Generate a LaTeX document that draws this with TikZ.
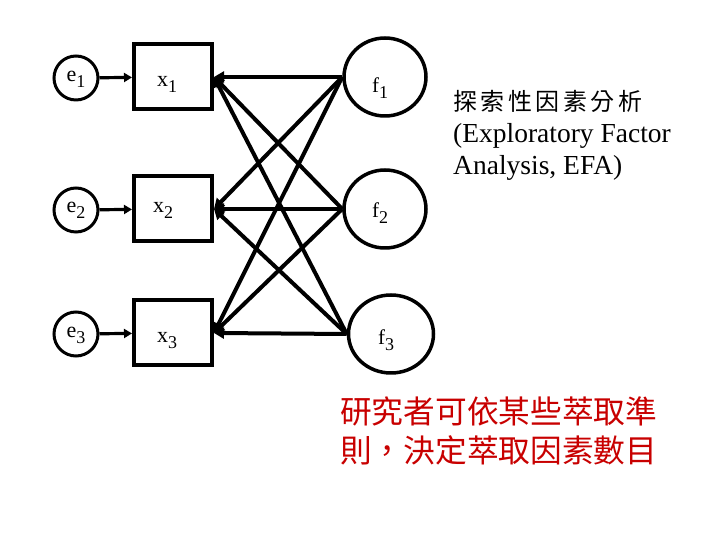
\documentclass[tikz,border=0pt]{standalone}
\usepackage{fontspec}
\setmainfont{Liberation Serif}
\newfontfamily\cjk{Noto Sans CJK TC}
\usetikzlibrary{shapes.geometric,arrows.meta}
\definecolor{redtxt}{RGB}{200,0,0}
% label: #1 horizontal shift (doubled), #2 vertical baseline offset, #3 letter, #4 index
\newcommand{\varlab}[4]{\makebox[0pt][c]{\kern#1\raisebox{#2}[0pt][0pt]{#3\raisebox{-6pt}{\fontsize{18}{18}\selectfont #4}}}}
\tikzset{
  errnode/.style={circle,draw,line width=3pt,minimum size=44pt,inner sep=0pt,font=\fontsize{22}{26}\selectfont},
  obsnode/.style={rectangle,draw,line width=4pt,minimum width=78pt,minimum height=65pt,inner sep=0pt,font=\fontsize{22}{26}\selectfont},
  facnode/.style={ellipse,draw,line width=3.5pt,minimum width=82pt,minimum height=78pt,inner sep=0pt,font=\fontsize{21}{26}\selectfont},
  load/.style={line width=4pt,-{Triangle[length=10pt,width=11pt]}},
  errarr/.style={line width=3.2pt,-{Triangle[length=8pt,width=9pt]}},
}
\begin{document}
\begin{tikzpicture}[x=1pt,y=1pt]
\useasboundingbox (0,0) rectangle (720,540);
% error terms
\node[errnode] (e1) at (76,462) {\varlab{0pt}{-4pt}{e}{1}};
\node[errnode] (e2) at (76,330) {\varlab{0pt}{-3pt}{e}{2}};
\node[errnode] (e3) at (76,206) {\varlab{0pt}{-4pt}{e}{3}};
% observed variables
\node[obsnode] (x1) at (173,463) {\varlab{-12pt}{-10pt}{x}{1}};
\node[obsnode] (x2) at (173,331) {\varlab{-20pt}{-4pt}{x}{2}};
\node[obsnode] (x3) at (173,207) {\varlab{-12pt}{-10pt}{x}{3}};
% factors
\node[facnode] (f1) at (385,463) {\varlab{-10pt}{-16pt}{f}{1}};
\node[facnode] (f2) at (385,331) {\varlab{-10pt}{-9pt}{f}{2}};
\node[facnode,minimum width=85pt] (f3) at (391,206) {\varlab{-10pt}{-11pt}{f}{3}};
% error arrows
\draw[errarr] (e1) -- (x1);
\draw[errarr] (e2) -- (x2);
\draw[errarr] (e3) -- (x3);
% loadings
\foreach \i in {1,2,3}{
  \foreach \j in {1,2,3}{
    \draw[load] (f\i.west) -- (x\j.east);
  }
}
% texts
\node[anchor=base west,inner sep=0pt,font=\cjk\fontsize{24}{28}\selectfont] (t1) at (453,429)
  {探\hspace{3.5pt}索\hspace{3.5pt}性\hspace{3.5pt}因\hspace{3.5pt}素\hspace{3.5pt}分\hspace{3.5pt}析};
\node[anchor=base west,inner sep=0pt,font=\fontsize{27.5}{32}\selectfont] (t2) at (453,397) {(Exploratory Factor};
\node[anchor=base west,inner sep=0pt,font=\fontsize{27.5}{32}\selectfont] (t3) at (453,365) {Analysis, EFA)};
\node[anchor=base west,inner sep=0pt,text=redtxt,font=\cjk\fontsize{31.7}{38}\selectfont] (r1) at (340,116) {研究者可依某些萃取準};
\node[anchor=base west,inner sep=0pt,text=redtxt,font=\cjk\fontsize{31.7}{38}\selectfont] (r2) at (340,77) {則，決定萃取因素數目};
\end{tikzpicture}
\end{document}
